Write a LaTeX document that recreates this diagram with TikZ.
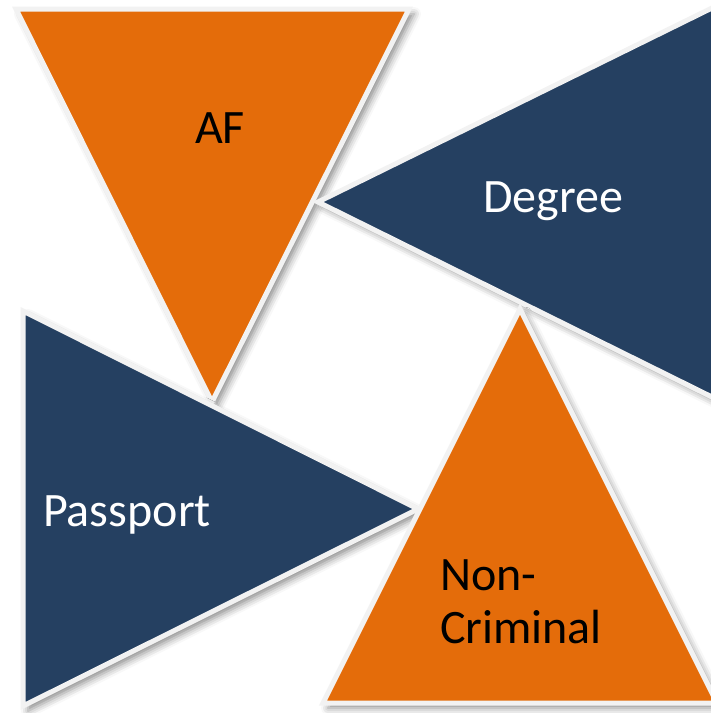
\documentclass[tikz,border=0pt]{standalone}
\usepackage{fontspec}
\setmainfont{Carlito}
\usetikzlibrary{shadows.blur}
\definecolor{afOrange}{RGB}{228,108,10}
\definecolor{afNavy}{RGB}{37,64,97}
\definecolor{afRim}{RGB}{242,242,242}
\tikzset{
  wedge/.style={draw=afRim, line width=5, line join=miter,
    blur shadow={shadow xshift=5pt, shadow yshift=-5pt, shadow blur radius=7pt, shadow opacity=45}},
  label/.style={font=\fontsize{48}{53}\selectfont, text=white}
}
\begin{document}
\begin{tikzpicture}[x=1pt,y=-1pt]
				\useasboundingbox (0,0) rectangle (711,713);
				\coordinate (A1) at (16,9);
				\coordinate (A2) at (409,9);
				\coordinate (A3) at (212,402);
				\coordinate (D1) at (318,202);
				\coordinate (D2) at (714,7);
				\coordinate (D3) at (714,398);
				\coordinate (P1) at (23,311);
				\coordinate (P2) at (23,706);
				\coordinate (P3) at (418,509);
				\coordinate (N1) at (520,309);
				\coordinate (N2) at (323,703);
				\coordinate (N3) at (717,703);
				\draw[wedge, fill=afOrange] (A1) -- (A2) -- (A3) -- cycle;
				\draw[wedge, fill=afNavy] (D1) -- (D2) -- (D3) -- cycle;
				\draw[wedge, fill=afNavy] (P1) -- (P2) -- (P3) -- cycle;
				\draw[wedge, fill=afOrange] (N1) -- (N2) -- (N3) -- cycle;
				\node[label, text=black] (af) at (220,128) {AF};
				\node[label] (degree) at (553,201) {Degree};
				\node[label] (passport) at (127,515) {Passport};
				\node[label, text=black, align=left] (noncrim) at (521,602) {Non-\\Criminal};
			\end{tikzpicture}
\end{document}
